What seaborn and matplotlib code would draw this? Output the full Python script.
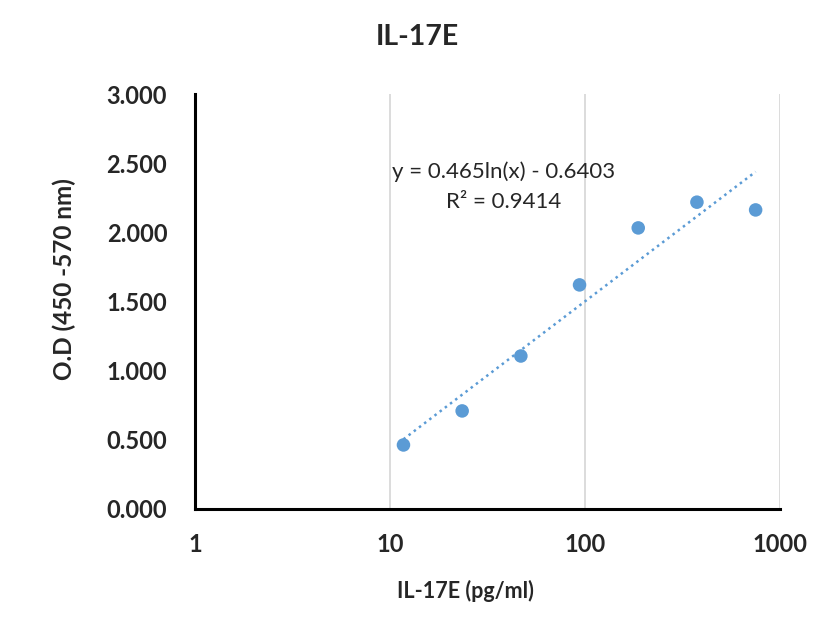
import numpy as np
import pandas as pd
import seaborn as sns
import matplotlib.pyplot as plt
from matplotlib.ticker import FixedLocator, NullLocator, FormatStrFormatter

# standard curve readings
conc = [11.72, 23.44, 46.88, 93.75, 187.5, 375.0, 750.0]
od = [0.463, 0.709, 1.106, 1.620, 2.032, 2.218, 2.162]

# log trendline coefficients as printed on the chart
slope = 0.465
intercept = -0.6403
r2 = 0.9414

x_ticks = [1, 10, 100, 1000]
y_ticks = [0.0, 0.5, 1.0, 1.5, 2.0, 2.5, 3.0]

BLUE = '#5B9BD5'

sns.set_theme(style="white")
plt.rcParams['font.family'] = ['Lato', 'DejaVu Sans']

df = pd.DataFrame({'conc': conc, 'od': od})
trend = pd.DataFrame({'conc': np.geomspace(conc[0], conc[-1], 60)})
trend['od'] = slope * np.log(trend.conc) + intercept

fig = plt.figure(figsize=(8.36, 6.25), dpi=100)
ax = fig.add_axes([0.2333, 0.1856, 0.6997, 0.664])

sns.lineplot(data=trend, x='conc', y='od', ax=ax, color=BLUE,
             linestyle=(0, (1, 1.6)), linewidth=1.8)
sns.scatterplot(data=df, x='conc', y='od', ax=ax, color=BLUE,
                s=95, edgecolor='none', zorder=3)

ax.set_xscale('log')
ax.set_xlim(1, 1000)
ax.set_ylim(0, 3)
ax.xaxis.set_major_locator(FixedLocator(x_ticks))
ax.xaxis.set_minor_locator(NullLocator())
ax.set_xticklabels([str(t) for t in x_ticks])
ax.yaxis.set_major_locator(FixedLocator(y_ticks))
ax.yaxis.set_major_formatter(FormatStrFormatter('%.3f'))

ax.grid(axis='x', color='#d9d9d9', linewidth=1.3)
ax.grid(axis='y', visible=False)
for side in ['top', 'right']:
    ax.spines[side].set_visible(False)
for side in ['left', 'bottom']:
    ax.spines[side].set_color('black')
    ax.spines[side].set_linewidth(2.2)

ax.tick_params(axis='both', which='major', direction='out', length=6, width=2.2,
               color='black', labelsize=17)
ax.tick_params(axis='x', pad=11)
ax.tick_params(axis='y', pad=14)
for lab in ax.get_xticklabels() + ax.get_yticklabels():
    lab.set_fontweight('bold')

ax.set_xlabel('')
ax.set_ylabel('')
fig.text(64 / 836, 1 - 279 / 625, 'O.D (450 -570 nm)', fontsize=17.5, fontweight='bold',
         rotation=90, ha='center', va='center')
fig.text(465 / 836, 1 - 591 / 625, 'IL-17E (pg/ml)', fontsize=15.5, fontweight='bold',
         ha='center', va='center')
fig.text(417 / 836, 1 - 37 / 625, 'IL-17E', fontsize=20.5, fontweight='bold',
         ha='center', va='center')

ax.text(504 / 836, 1 - 172 / 625, 'y = {}ln(x) - {}'.format(slope, abs(intercept)),
        transform=fig.transFigure, fontsize=16, ha='center', va='center')
ax.text(504 / 836, 1 - 202 / 625, 'R² = {}'.format(r2),
        transform=fig.transFigure, fontsize=16, ha='center', va='center')

plt.savefig('out.png', dpi=100)
plt.close('all')
